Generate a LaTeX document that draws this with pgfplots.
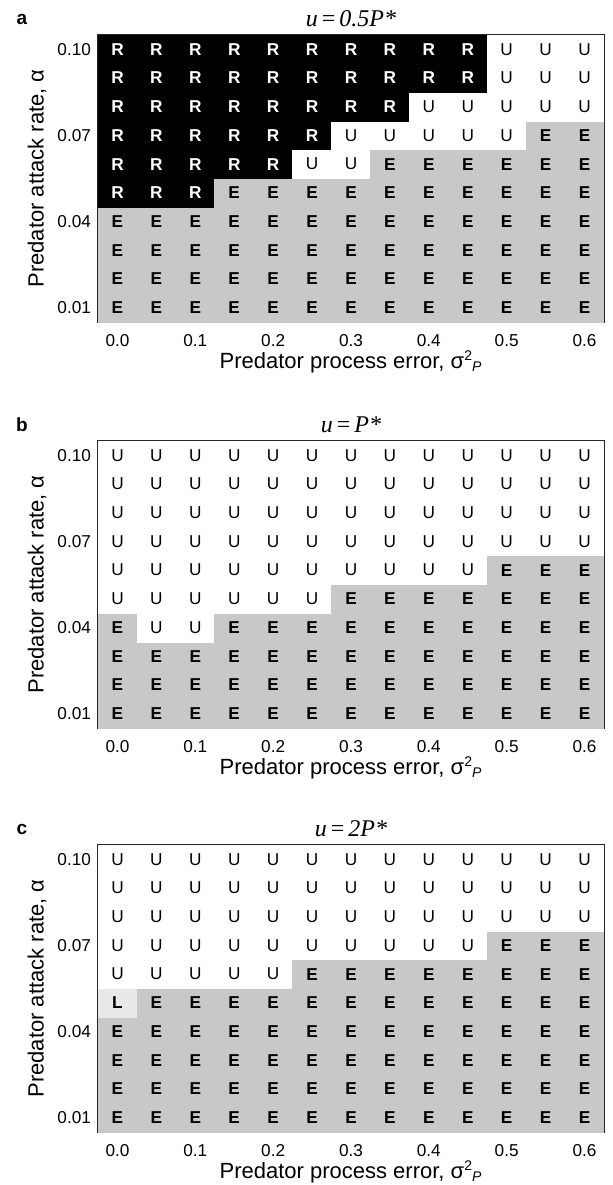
\documentclass[border=0pt]{standalone}
\usepackage{pgfplots}
\pgfplotsset{compat=1.18}
\usepackage{pgfplotstable}
\usepackage{fontspec}
\setmainfont{Liberation Sans}
\newfontfamily\serif{Liberation Serif}
\definecolor{egray}{RGB}{200,200,200}
\definecolor{lgray}{RGB}{232,232,232}
\newcommand\cellR{\textcolor{white}{\bfseries R}}
\newcommand\cellE{\bfseries E}
\newcommand\cellU{U}
\newcommand\cellL{\bfseries L}
% codes: 0=R (black), 1=U (white), 2=E (gray), 3=L (light gray)
\pgfplotstableread[row sep=\\]{
x y c l \\
0.00 0.01 2 E \\ 0.05 0.01 2 E \\ 0.10 0.01 2 E \\ 0.15 0.01 2 E \\ 0.20 0.01 2 E \\ 0.25 0.01 2 E \\ 0.30 0.01 2 E \\ 0.35 0.01 2 E \\ 0.40 0.01 2 E \\ 0.45 0.01 2 E \\ 0.50 0.01 2 E \\ 0.55 0.01 2 E \\ 0.60 0.01 2 E \\
0.00 0.02 2 E \\ 0.05 0.02 2 E \\ 0.10 0.02 2 E \\ 0.15 0.02 2 E \\ 0.20 0.02 2 E \\ 0.25 0.02 2 E \\ 0.30 0.02 2 E \\ 0.35 0.02 2 E \\ 0.40 0.02 2 E \\ 0.45 0.02 2 E \\ 0.50 0.02 2 E \\ 0.55 0.02 2 E \\ 0.60 0.02 2 E \\
0.00 0.03 2 E \\ 0.05 0.03 2 E \\ 0.10 0.03 2 E \\ 0.15 0.03 2 E \\ 0.20 0.03 2 E \\ 0.25 0.03 2 E \\ 0.30 0.03 2 E \\ 0.35 0.03 2 E \\ 0.40 0.03 2 E \\ 0.45 0.03 2 E \\ 0.50 0.03 2 E \\ 0.55 0.03 2 E \\ 0.60 0.03 2 E \\
0.00 0.04 2 E \\ 0.05 0.04 2 E \\ 0.10 0.04 2 E \\ 0.15 0.04 2 E \\ 0.20 0.04 2 E \\ 0.25 0.04 2 E \\ 0.30 0.04 2 E \\ 0.35 0.04 2 E \\ 0.40 0.04 2 E \\ 0.45 0.04 2 E \\ 0.50 0.04 2 E \\ 0.55 0.04 2 E \\ 0.60 0.04 2 E \\
0.00 0.05 0 R \\ 0.05 0.05 0 R \\ 0.10 0.05 0 R \\ 0.15 0.05 2 E \\ 0.20 0.05 2 E \\ 0.25 0.05 2 E \\ 0.30 0.05 2 E \\ 0.35 0.05 2 E \\ 0.40 0.05 2 E \\ 0.45 0.05 2 E \\ 0.50 0.05 2 E \\ 0.55 0.05 2 E \\ 0.60 0.05 2 E \\
0.00 0.06 0 R \\ 0.05 0.06 0 R \\ 0.10 0.06 0 R \\ 0.15 0.06 0 R \\ 0.20 0.06 0 R \\ 0.25 0.06 1 U \\ 0.30 0.06 1 U \\ 0.35 0.06 2 E \\ 0.40 0.06 2 E \\ 0.45 0.06 2 E \\ 0.50 0.06 2 E \\ 0.55 0.06 2 E \\ 0.60 0.06 2 E \\
0.00 0.07 0 R \\ 0.05 0.07 0 R \\ 0.10 0.07 0 R \\ 0.15 0.07 0 R \\ 0.20 0.07 0 R \\ 0.25 0.07 0 R \\ 0.30 0.07 1 U \\ 0.35 0.07 1 U \\ 0.40 0.07 1 U \\ 0.45 0.07 1 U \\ 0.50 0.07 1 U \\ 0.55 0.07 2 E \\ 0.60 0.07 2 E \\
0.00 0.08 0 R \\ 0.05 0.08 0 R \\ 0.10 0.08 0 R \\ 0.15 0.08 0 R \\ 0.20 0.08 0 R \\ 0.25 0.08 0 R \\ 0.30 0.08 0 R \\ 0.35 0.08 0 R \\ 0.40 0.08 1 U \\ 0.45 0.08 1 U \\ 0.50 0.08 1 U \\ 0.55 0.08 1 U \\ 0.60 0.08 1 U \\
0.00 0.09 0 R \\ 0.05 0.09 0 R \\ 0.10 0.09 0 R \\ 0.15 0.09 0 R \\ 0.20 0.09 0 R \\ 0.25 0.09 0 R \\ 0.30 0.09 0 R \\ 0.35 0.09 0 R \\ 0.40 0.09 0 R \\ 0.45 0.09 0 R \\ 0.50 0.09 1 U \\ 0.55 0.09 1 U \\ 0.60 0.09 1 U \\
0.00 0.10 0 R \\ 0.05 0.10 0 R \\ 0.10 0.10 0 R \\ 0.15 0.10 0 R \\ 0.20 0.10 0 R \\ 0.25 0.10 0 R \\ 0.30 0.10 0 R \\ 0.35 0.10 0 R \\ 0.40 0.10 0 R \\ 0.45 0.10 0 R \\ 0.50 0.10 1 U \\ 0.55 0.10 1 U \\ 0.60 0.10 1 U \\
}\tabA
\pgfplotstableread[row sep=\\]{
x y c l \\
0.00 0.01 2 E \\ 0.05 0.01 2 E \\ 0.10 0.01 2 E \\ 0.15 0.01 2 E \\ 0.20 0.01 2 E \\ 0.25 0.01 2 E \\ 0.30 0.01 2 E \\ 0.35 0.01 2 E \\ 0.40 0.01 2 E \\ 0.45 0.01 2 E \\ 0.50 0.01 2 E \\ 0.55 0.01 2 E \\ 0.60 0.01 2 E \\
0.00 0.02 2 E \\ 0.05 0.02 2 E \\ 0.10 0.02 2 E \\ 0.15 0.02 2 E \\ 0.20 0.02 2 E \\ 0.25 0.02 2 E \\ 0.30 0.02 2 E \\ 0.35 0.02 2 E \\ 0.40 0.02 2 E \\ 0.45 0.02 2 E \\ 0.50 0.02 2 E \\ 0.55 0.02 2 E \\ 0.60 0.02 2 E \\
0.00 0.03 2 E \\ 0.05 0.03 2 E \\ 0.10 0.03 2 E \\ 0.15 0.03 2 E \\ 0.20 0.03 2 E \\ 0.25 0.03 2 E \\ 0.30 0.03 2 E \\ 0.35 0.03 2 E \\ 0.40 0.03 2 E \\ 0.45 0.03 2 E \\ 0.50 0.03 2 E \\ 0.55 0.03 2 E \\ 0.60 0.03 2 E \\
0.00 0.04 2 E \\ 0.05 0.04 1 U \\ 0.10 0.04 1 U \\ 0.15 0.04 2 E \\ 0.20 0.04 2 E \\ 0.25 0.04 2 E \\ 0.30 0.04 2 E \\ 0.35 0.04 2 E \\ 0.40 0.04 2 E \\ 0.45 0.04 2 E \\ 0.50 0.04 2 E \\ 0.55 0.04 2 E \\ 0.60 0.04 2 E \\
0.00 0.05 1 U \\ 0.05 0.05 1 U \\ 0.10 0.05 1 U \\ 0.15 0.05 1 U \\ 0.20 0.05 1 U \\ 0.25 0.05 1 U \\ 0.30 0.05 2 E \\ 0.35 0.05 2 E \\ 0.40 0.05 2 E \\ 0.45 0.05 2 E \\ 0.50 0.05 2 E \\ 0.55 0.05 2 E \\ 0.60 0.05 2 E \\
0.00 0.06 1 U \\ 0.05 0.06 1 U \\ 0.10 0.06 1 U \\ 0.15 0.06 1 U \\ 0.20 0.06 1 U \\ 0.25 0.06 1 U \\ 0.30 0.06 1 U \\ 0.35 0.06 1 U \\ 0.40 0.06 1 U \\ 0.45 0.06 1 U \\ 0.50 0.06 2 E \\ 0.55 0.06 2 E \\ 0.60 0.06 2 E \\
0.00 0.07 1 U \\ 0.05 0.07 1 U \\ 0.10 0.07 1 U \\ 0.15 0.07 1 U \\ 0.20 0.07 1 U \\ 0.25 0.07 1 U \\ 0.30 0.07 1 U \\ 0.35 0.07 1 U \\ 0.40 0.07 1 U \\ 0.45 0.07 1 U \\ 0.50 0.07 1 U \\ 0.55 0.07 1 U \\ 0.60 0.07 1 U \\
0.00 0.08 1 U \\ 0.05 0.08 1 U \\ 0.10 0.08 1 U \\ 0.15 0.08 1 U \\ 0.20 0.08 1 U \\ 0.25 0.08 1 U \\ 0.30 0.08 1 U \\ 0.35 0.08 1 U \\ 0.40 0.08 1 U \\ 0.45 0.08 1 U \\ 0.50 0.08 1 U \\ 0.55 0.08 1 U \\ 0.60 0.08 1 U \\
0.00 0.09 1 U \\ 0.05 0.09 1 U \\ 0.10 0.09 1 U \\ 0.15 0.09 1 U \\ 0.20 0.09 1 U \\ 0.25 0.09 1 U \\ 0.30 0.09 1 U \\ 0.35 0.09 1 U \\ 0.40 0.09 1 U \\ 0.45 0.09 1 U \\ 0.50 0.09 1 U \\ 0.55 0.09 1 U \\ 0.60 0.09 1 U \\
0.00 0.10 1 U \\ 0.05 0.10 1 U \\ 0.10 0.10 1 U \\ 0.15 0.10 1 U \\ 0.20 0.10 1 U \\ 0.25 0.10 1 U \\ 0.30 0.10 1 U \\ 0.35 0.10 1 U \\ 0.40 0.10 1 U \\ 0.45 0.10 1 U \\ 0.50 0.10 1 U \\ 0.55 0.10 1 U \\ 0.60 0.10 1 U \\
}\tabB
\pgfplotstableread[row sep=\\]{
x y c l \\
0.00 0.01 2 E \\ 0.05 0.01 2 E \\ 0.10 0.01 2 E \\ 0.15 0.01 2 E \\ 0.20 0.01 2 E \\ 0.25 0.01 2 E \\ 0.30 0.01 2 E \\ 0.35 0.01 2 E \\ 0.40 0.01 2 E \\ 0.45 0.01 2 E \\ 0.50 0.01 2 E \\ 0.55 0.01 2 E \\ 0.60 0.01 2 E \\
0.00 0.02 2 E \\ 0.05 0.02 2 E \\ 0.10 0.02 2 E \\ 0.15 0.02 2 E \\ 0.20 0.02 2 E \\ 0.25 0.02 2 E \\ 0.30 0.02 2 E \\ 0.35 0.02 2 E \\ 0.40 0.02 2 E \\ 0.45 0.02 2 E \\ 0.50 0.02 2 E \\ 0.55 0.02 2 E \\ 0.60 0.02 2 E \\
0.00 0.03 2 E \\ 0.05 0.03 2 E \\ 0.10 0.03 2 E \\ 0.15 0.03 2 E \\ 0.20 0.03 2 E \\ 0.25 0.03 2 E \\ 0.30 0.03 2 E \\ 0.35 0.03 2 E \\ 0.40 0.03 2 E \\ 0.45 0.03 2 E \\ 0.50 0.03 2 E \\ 0.55 0.03 2 E \\ 0.60 0.03 2 E \\
0.00 0.04 2 E \\ 0.05 0.04 2 E \\ 0.10 0.04 2 E \\ 0.15 0.04 2 E \\ 0.20 0.04 2 E \\ 0.25 0.04 2 E \\ 0.30 0.04 2 E \\ 0.35 0.04 2 E \\ 0.40 0.04 2 E \\ 0.45 0.04 2 E \\ 0.50 0.04 2 E \\ 0.55 0.04 2 E \\ 0.60 0.04 2 E \\
0.00 0.05 3 L \\ 0.05 0.05 2 E \\ 0.10 0.05 2 E \\ 0.15 0.05 2 E \\ 0.20 0.05 2 E \\ 0.25 0.05 2 E \\ 0.30 0.05 2 E \\ 0.35 0.05 2 E \\ 0.40 0.05 2 E \\ 0.45 0.05 2 E \\ 0.50 0.05 2 E \\ 0.55 0.05 2 E \\ 0.60 0.05 2 E \\
0.00 0.06 1 U \\ 0.05 0.06 1 U \\ 0.10 0.06 1 U \\ 0.15 0.06 1 U \\ 0.20 0.06 1 U \\ 0.25 0.06 2 E \\ 0.30 0.06 2 E \\ 0.35 0.06 2 E \\ 0.40 0.06 2 E \\ 0.45 0.06 2 E \\ 0.50 0.06 2 E \\ 0.55 0.06 2 E \\ 0.60 0.06 2 E \\
0.00 0.07 1 U \\ 0.05 0.07 1 U \\ 0.10 0.07 1 U \\ 0.15 0.07 1 U \\ 0.20 0.07 1 U \\ 0.25 0.07 1 U \\ 0.30 0.07 1 U \\ 0.35 0.07 1 U \\ 0.40 0.07 1 U \\ 0.45 0.07 1 U \\ 0.50 0.07 2 E \\ 0.55 0.07 2 E \\ 0.60 0.07 2 E \\
0.00 0.08 1 U \\ 0.05 0.08 1 U \\ 0.10 0.08 1 U \\ 0.15 0.08 1 U \\ 0.20 0.08 1 U \\ 0.25 0.08 1 U \\ 0.30 0.08 1 U \\ 0.35 0.08 1 U \\ 0.40 0.08 1 U \\ 0.45 0.08 1 U \\ 0.50 0.08 1 U \\ 0.55 0.08 1 U \\ 0.60 0.08 1 U \\
0.00 0.09 1 U \\ 0.05 0.09 1 U \\ 0.10 0.09 1 U \\ 0.15 0.09 1 U \\ 0.20 0.09 1 U \\ 0.25 0.09 1 U \\ 0.30 0.09 1 U \\ 0.35 0.09 1 U \\ 0.40 0.09 1 U \\ 0.45 0.09 1 U \\ 0.50 0.09 1 U \\ 0.55 0.09 1 U \\ 0.60 0.09 1 U \\
0.00 0.10 1 U \\ 0.05 0.10 1 U \\ 0.10 0.10 1 U \\ 0.15 0.10 1 U \\ 0.20 0.10 1 U \\ 0.25 0.10 1 U \\ 0.30 0.10 1 U \\ 0.35 0.10 1 U \\ 0.40 0.10 1 U \\ 0.45 0.10 1 U \\ 0.50 0.10 1 U \\ 0.55 0.10 1 U \\ 0.60 0.10 1 U \\
}\tabC
\pgfplotsset{
  panel/.style={
    width=253pt, height=143.5pt, scale only axis,
    xmin=-0.025, xmax=0.625, ymin=0.005, ymax=0.105,
    xtick={0,0.1,0.2,0.3,0.4,0.5,0.6},
    xticklabels={0.0,0.1,0.2,0.3,0.4,0.5,0.6},
    ytick={0.01,0.04,0.07,0.10},
    yticklabels={0.01,0.04,0.07,0.10},
    major tick length=0pt,
    tick label style={font=\fontsize{8.6}{10}\selectfont},
    xticklabel style={yshift=-2.5pt},
    axis line style={line width=1pt, draw=black!85},
    colormap={cat}{rgb255=(0,0,0) rgb255=(255,255,255) rgb255=(200,200,200) rgb255=(232,232,232)},
    point meta min=0, point meta max=3,
    xlabel={Predator process error, σ$^{\hbox{\scriptsize 2}}$\kern-0.5pt$_{\hbox{\scriptsize\itshape P}}$},
    ylabel={Predator attack rate, α},
    label style={font=\fontsize{11}{13}\selectfont},
    xlabel style={at={(axis description cs:0.5,-0.1394)}, anchor=center},
    ylabel style={at={(axis description cs:-0.1206,0.5)}, anchor=center},
    every axis title shift=0pt,
    title style={at={(axis description cs:0.5,1.0557)}, anchor=center, font=\serif\fontsize{12}{14}\selectfont},
  },
  cells/.style={matrix plot*, mesh/cols=13, point meta=explicit},
  letters/.style={only marks, mark=none, point meta=explicit symbolic,
    nodes near coords={\csname cell\pgfplotspointmeta\endcsname},
    nodes near coords align={center},
    every node near coord/.append style={font=\fontsize{8.6}{10}\selectfont, inner sep=0pt}},
}
\begin{document}
\begin{tikzpicture}
\path[use as bounding box] (0,0) rectangle (306.5pt,-592.5pt);
\begin{axis}[panel, name=A, at={(49pt,-17.5pt)}, anchor=north west,
  title={\itshape u\upshape\,=\,\itshape0.5P*}]
\addplot[cells] table[meta=c] {\tabA};
\addplot[letters] table[meta=l] {\tabA};
\end{axis}
\node[font=\bfseries\fontsize{9.5}{11}\selectfont] at ([xshift=-38pt,yshift=8pt]A.north west) {a};
\begin{axis}[panel, name=B, at={(49pt,-220.5pt)}, anchor=north west,
  title={\itshape u\upshape\,=\,\itshape P*}]
\addplot[cells] table[meta=c] {\tabB};
\addplot[letters] table[meta=l] {\tabB};
\end{axis}
\node[font=\bfseries\fontsize{9.5}{11}\selectfont] at ([xshift=-38pt,yshift=8pt]B.north west) {b};
\begin{axis}[panel, name=C, at={(49pt,-422.5pt)}, anchor=north west,
  title={\itshape u\upshape\,=\,\itshape 2P*}]
\addplot[cells] table[meta=c] {\tabC};
\addplot[letters] table[meta=l] {\tabC};
\end{axis}
\node[font=\bfseries\fontsize{9.5}{11}\selectfont] at ([xshift=-38pt,yshift=8pt]C.north west) {c};
\end{tikzpicture}
\end{document}
